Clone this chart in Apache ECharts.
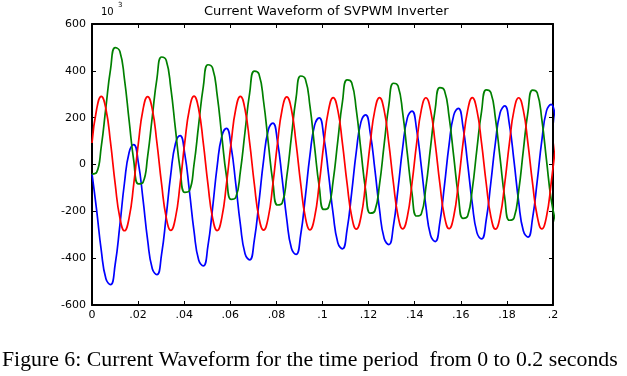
<!DOCTYPE html>
<html>
<head>
<meta charset="utf-8">
<title>Current Waveform of SVPWM Inverter</title>
<script src="https://cdn.jsdelivr.net/npm/echarts@6/dist/echarts.min.js"></script>
<style>
html, body { margin: 0; padding: 0; background: #fff; }
#main { width: 627px; height: 376px; }
</style>
</head>
<body>
<div id="main"></div>
<script>
// sample instants, ms (~10 per cycle)
var timeMs = [
	0, 2.01, 4.02, 6.04, 8.05, 10.06, 12.07, 14.08, 16.1, 18.11,
	20.12, 22.13, 24.14, 26.16, 28.17, 30.18, 32.19, 34.2, 36.22, 38.23,
	40.24, 42.25, 44.26, 46.28, 48.29, 50.3, 52.31, 54.32, 56.34, 58.35,
	60.36, 62.37, 64.38, 66.4, 68.41, 70.42, 72.43, 74.44, 76.46, 78.47,
	80.48, 82.49, 84.5, 86.52, 88.53, 90.54, 92.55, 94.56, 96.58, 98.59,
	100.6, 102.61, 104.62, 106.64, 108.65, 110.66, 112.67, 114.68, 116.7, 118.71,
	120.72, 122.73, 124.74, 126.76, 128.77, 130.78, 132.79, 134.8, 136.82, 138.83,
	140.84, 142.85, 144.86, 146.88, 148.89, 150.9, 152.91, 154.92, 156.94, 158.95,
	160.96, 162.97, 164.98, 167, 169.01, 171.02, 173.03, 175.04, 177.06, 179.07,
	181.08, 183.09, 185.1, 187.12, 189.13, 191.14, 193.15, 195.16, 197.18, 199.19,
	201.2
];

// phase currents (x10^3)
var blueCurrent = [
	-40, -195, -367, -488, -513, -426, -261, -79, 51, 85,
	7, -149, -323, -445, -470, -384, -220, -40, 90, 123,
	45, -112, -285, -408, -433, -348, -186, -6, 122, 154,
	75, -83, -257, -381, -407, -323, -161, 18, 146, 177,
	98, -60, -234, -358, -384, -300, -138, 40, 168, 199,
	116, -40, -211, -334, -360, -278, -119, 56, 182, 212,
	134, -22, -193, -316, -342, -261, -102, 73, 199, 228,
	149, -7, -179, -302, -329, -248, -89, 85, 211, 240,
	161, 4, -167, -291, -318, -237, -78, 95, 221, 250,
	171, 14, -159, -283, -310, -229, -71, 103, 229, 257,
	178
];
var greenCurrent = [
	-41, -34, 76, 245, 407, 499, 484, 365, 188, 17,
	-83, -76, 35, 204, 367, 459, 445, 326, 150, -20,
	-119, -112, 0, 170, 333, 426, 412, 295, 119, -51,
	-149, -141, -29, 141, 306, 399, 386, 269, 94, -75,
	-173, -165, -52, 119, 284, 378, 365, 249, 74, -95,
	-192, -183, -70, 101, 267, 361, 349, 232, 58, -110,
	-208, -198, -85, 87, 252, 347, 335, 219, 45, -123,
	-220, -211, -97, 74, 236, 328, 316, 204, 34, -134,
	-230, -220, -106, 67, 227, 319, 307, 196, 26, -142,
	-238, -228, -114, 59, 225, 318, 306, 192, 19, -149,
	-246
];
var redCurrent = [
	92, 236, 291, 237, 93, -83, -227, -283, -228, -84,
	91, 235, 290, 236, 92, -82, -226, -281, -227, -83,
	93, 236, 292, 236, 91, -84, -228, -282, -226, -82,
	92, 237, 291, 235, 92, -83, -227, -280, -227, -84,
	91, 235, 289, 235, 91, -82, -225, -279, -225, -82,
	90, 232, 286, 232, 90, -81, -222, -276, -223, -81,
	91, 233, 286, 231, 91, -80, -221, -275, -222, -80,
	90, 232, 285, 232, 90, -81, -222, -274, -221, -81,
	91, 231, 286, 231, 91, -80, -222, -276, -222, -80,
	90, 232, 285, 232, 90, -81, -221, -275, -222, -81,
	90
];

var xTickLabels = ['0', '.02', '.04', '.06', '.08', '.1', '.12', '.14', '.16', '.18', '.2'];

function pairs(vals) {
	return timeMs.map(function (t, i) { return [t / 1000, vals[i]]; });
}

var edgeLine = {show: true, onZero: false, lineStyle: {color: '#000', width: 2}};
var innerTick = {show: true, inside: true, length: 4, lineStyle: {color: '#000', width: 1}};
var tickFont = {color: '#000', fontFamily: 'DejaVu Sans', fontSize: 11};

var myChart = echarts.init(document.getElementById('main'));
myChart.setOption({
	animation: false,
	backgroundColor: '#fff',
	grid: {left: 92, top: 24, width: 461, height: 281},
	xAxis: [
		{
			type: 'value', position: 'bottom', min: 0, max: 0.2, interval: 0.02,
			axisLine: edgeLine, axisTick: innerTick, splitLine: {show: false},
			axisLabel: Object.assign({margin: 5, formatter: function (v) {
				return xTickLabels[Math.round(v / 0.02)];
			}}, tickFont)
		},
		{
			type: 'value', position: 'top', min: 0, max: 0.2, interval: 0.02,
			axisLine: edgeLine, axisTick: innerTick, splitLine: {show: false},
			axisLabel: {show: false}
		}
	],
	yAxis: [
		{
			type: 'value', position: 'left', min: -600, max: 600, interval: 200,
			axisLine: edgeLine, axisTick: innerTick, splitLine: {show: false},
			axisLabel: Object.assign({margin: 6}, tickFont)
		},
		{
			type: 'value', position: 'right', min: -600, max: 600, interval: 200,
			axisLine: edgeLine, axisTick: innerTick, splitLine: {show: false},
			axisLabel: {show: false}
		}
	],
	series: [
		{type: 'line', data: pairs(blueCurrent), smooth: true, symbol: 'none', lineStyle: {color: '#0000ff', width: 1.7}},
		{type: 'line', data: pairs(greenCurrent), smooth: true, symbol: 'none', lineStyle: {color: '#008000', width: 1.7}},
		{type: 'line', data: pairs(redCurrent), smooth: true, symbol: 'none', lineStyle: {color: '#ff0000', width: 1.7}}
	],
	graphic: [
		{type: 'text', left: 204, top: 5, style: {text: 'Current Waveform of SVPWM Inverter', fill: '#000', font: '13px "DejaVu Sans"'}},
		{type: 'text', left: 101, top: 7, style: {text: '10', fill: '#000', font: '10px "DejaVu Sans"'}},
		{type: 'text', left: 118, top: 2, style: {text: '3', fill: '#000', font: '7px "DejaVu Sans"'}},
		{type: 'text', left: 2, top: 349, style: {text: 'Figure 6: Current Waveform for the time period  from 0 to 0.2 seconds', fill: '#000', font: '21.8px "Liberation Serif"'}}
	]
});
</script>
</body>
</html>
